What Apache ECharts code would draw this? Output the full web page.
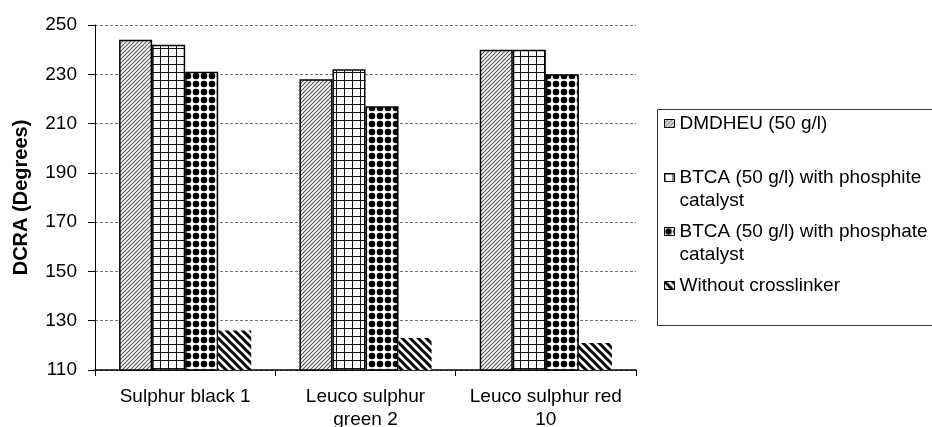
<!DOCTYPE html>
<html>
<head>
<meta charset="utf-8">
<script src="https://cdn.jsdelivr.net/npm/echarts@6/dist/echarts.min.js"></script>
<style>
  html, body { margin: 0; padding: 0; background: #fff; }
  #chart { width: 932px; height: 427px; }
</style>
</head>
<body>
<div id="chart"></div>
<script>
// values
const categories = ["Sulphur black 1", "Leuco sulphur\ngreen 2", "Leuco sulphur red\n10"];
const seriesNames = [
  "DMDHEU (50 g/l)",
  "BTCA (50 g/l) with phosphite catalyst",
  "BTCA (50 g/l) with phosphate catalyst",
  "Without crosslinker",
];
const dmdheu = [244, 228, 240];
const btcaPhosphite = [242, 232, 240];
const btcaPhosphate = [231, 217, 230];
const noCrosslinker = [126, 123, 121];
const yMin = 110;
const yMax = 250;
const yStep = 20;

const FONT = "'Liberation Sans', Arial, sans-serif";

// small canvas tiles used as hatch fills
function tile(size, draw) {
  const c = document.createElement("canvas");
  c.width = size;
  c.height = size;
  const ctx = c.getContext("2d");
  ctx.fillStyle = "#fff";
  ctx.fillRect(0, 0, size, size);
  draw(ctx, size);
  return { image: c, repeat: "repeat" };
}

const fineHatch = tile(4, (ctx, s) => {
  ctx.strokeStyle = "#555";
  ctx.lineWidth = 1.1;
  ctx.beginPath();
  ctx.moveTo(0, s); ctx.lineTo(s, 0);
  ctx.moveTo(-1, 1); ctx.lineTo(1, -1);
  ctx.moveTo(s - 1, s + 1); ctx.lineTo(s + 1, s - 1);
  ctx.stroke();
});

const gridHatch = tile(8, (ctx, s) => {
  ctx.fillStyle = "#111";
  ctx.fillRect(0, 0, s, 1);
  ctx.fillRect(0, 0, 1, s);
});

const dotHatch = tile(8, (ctx, s) => {
  ctx.fillStyle = "#000";
  ctx.beginPath();
  ctx.arc(s / 2, s / 2, 3.3, 0, Math.PI * 2);
  ctx.fill();
});

const stripeHatch = tile(8, (ctx, s) => {
  ctx.strokeStyle = "#000";
  ctx.lineWidth = 3;
  ctx.beginPath();
  ctx.moveTo(0, 0); ctx.lineTo(s, s);
  ctx.moveTo(-s / 2, s / 2); ctx.lineTo(s / 2, s * 1.5);
  ctx.moveTo(s / 2, -s / 2); ctx.lineTo(s * 1.5, s / 2);
  ctx.stroke();
});

const fills = [fineHatch, gridHatch, dotHatch, stripeHatch];
const values = [dmdheu, btcaPhosphite, btcaPhosphate, noCrosslinker];

const chart = echarts.init(document.getElementById("chart"), null, { renderer: "canvas" });

const series = seriesNames.map((name, i) => ({
  name: name,
  type: "bar",
  data: values[i],
  barGap: "0%",
  barCategoryGap: "26.7%",
  itemStyle: {
    color: fills[i],
    borderColor: "#000",
    borderWidth: i === 3 ? 0 : 1.5,
  },
}));

// every legend entry takes three text lines so the slots are even;
// the label sits on the middle line, next to the icon
function legendLabel(name) {
  if (name.includes(" catalyst")) return "\n" + name.replace(" catalyst", "\ncatalyst");
  return "\n" + name + "\n";
}

const option = {
  animation: false,
  backgroundColor: "#fff",
  textStyle: { fontFamily: FONT },
  grid: { left: 95, right: 296, top: 25, bottom: 57, outerBoundsMode: "none" },
  xAxis: {
    type: "category",
    data: categories,
    axisLine: { lineStyle: { color: "#000", width: 1.5 } },
    axisTick: { show: true, length: 6, lineStyle: { color: "#000" } },
    axisLabel: {
      color: "#000",
      fontSize: 19,
      fontFamily: FONT,
      lineHeight: 23,
      margin: 15,
      interval: 0,
    },
  },
  yAxis: {
    type: "value",
    min: yMin,
    max: yMax,
    interval: yStep,
    name: "DCRA (Degrees)",
    nameLocation: "middle",
    nameGap: 64,
    nameTextStyle: { color: "#000", fontSize: 20, fontWeight: "bold", fontFamily: FONT },
    axisLine: { show: true, lineStyle: { color: "#000", width: 1 } },
    axisTick: { show: true, length: 7, lineStyle: { color: "#000" } },
    axisLabel: { color: "#000", fontSize: 19, fontFamily: FONT, margin: 18 },
    splitLine: { lineStyle: { color: "#777", type: [3, 2], width: 1 } },
  },
  legend: {
    orient: "vertical",
    left: 664,
    top: 89,
    padding: 0,
    itemGap: -15,
    itemWidth: 10,
    itemHeight: 8,
    icon: "rect",
    itemStyle: { borderWidth: 1, borderColor: "#000" },
    formatter: legendLabel,
    textStyle: { color: "#000", fontSize: 19, fontFamily: FONT, lineHeight: 23 },
    data: seriesNames,
  },
  graphic: [
    {
      type: "rect",
      left: 655,
      top: 107,
      shape: { width: 300, height: 216 },
      style: { fill: "none", stroke: "#333", lineWidth: 1 },
      z: -1,
    },
  ],
  series: series,
};

chart.setOption(option);
</script>
</body>
</html>
